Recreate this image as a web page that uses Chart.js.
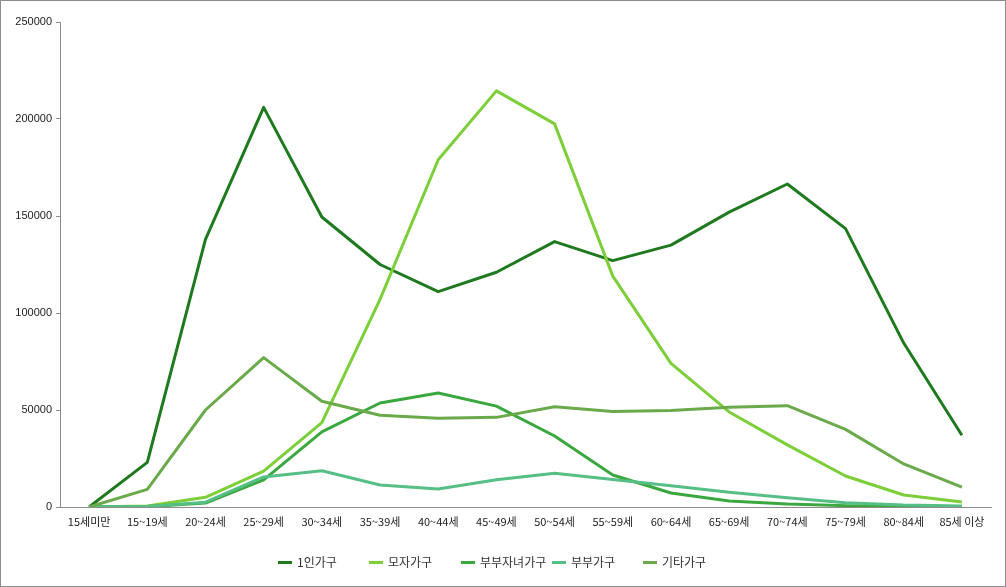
<!DOCTYPE html>
<html lang="ko">
<head>
<meta charset="utf-8">
<title>가구유형별 연령대 분포</title>
<script src="https://cdn.jsdelivr.net/npm/chart.js@4.4.1/dist/chart.umd.min.js"></script>
<style>
    html, body { margin: 0; padding: 0; background: #fff; }
    #frame {
        position: relative;
        width: 1006px;
        height: 587px;
        box-sizing: border-box;
        border: 1px solid #8c8c8c;
        font-family: "Noto Sans CJK KR", "DejaVu Sans", sans-serif;
    }
    #chartBox { position: absolute; left: 0; top: 0; width: 1004px; height: 585px; }
    #legend { position: absolute; left: 0; top: 551px; width: 1004px; height: 20px; }
    .item { position: absolute; top: 0; height: 20px; font-size: 12px; color: #333; line-height: 20px; white-space: nowrap; }
    .item i { display: inline-block; width: 14px; height: 3px; vertical-align: middle; margin-right: 5px; margin-top: -2px; }
</style>
</head>
<body>
<div id="frame">
    <div id="chartBox"><canvas id="lineChart"></canvas></div>
    <div id="legend"></div>
</div>
<script>
// Categories (age groups)
const ageGroups = ['15세미만', '15~19세', '20~24세', '25~29세', '30~34세', '35~39세', '40~44세', '45~49세',
    '50~54세', '55~59세', '60~64세', '65~69세', '70~74세', '75~79세', '80~84세', '85세 이상'];

// Series values
const singleHouse = [0, 23000, 138000, 206000, 149500, 125000, 111000, 121000, 136800, 127000, 135000, 152000, 166500, 143500, 84500, 37000];
const motherChild = [0, 500, 5000, 18500, 43500, 107000, 179000, 214500, 197500, 119000, 74000, 49000, 32000, 16000, 6200, 2600];
const coupleChildren = [0, 200, 2000, 14000, 38700, 53600, 58800, 52000, 36600, 16500, 7200, 3100, 1500, 700, 300, 200];
const coupleOnly = [0, 300, 2500, 15500, 18700, 11300, 9300, 14000, 17400, 14200, 10900, 7600, 4800, 2200, 1000, 500];
const otherHouse = [0, 9100, 50000, 77000, 54500, 47300, 45700, 46200, 51700, 49200, 49700, 51400, 52200, 40000, 22200, 10200];

const seriesNames = ['1인가구', '모자가구', '부부자녀가구', '부부가구', '기타가구'];
const seriesColors = ['#1f7a1f', '#7ccf38', '#3aa83f', '#56bf86', '#6aaa4a'];

// Y axis ticks
const yTicks = [0, 50000, 100000, 150000, 200000, 250000];

const seriesData = [singleHouse, motherChild, coupleChildren, coupleOnly, otherHouse];

// Build legend
const legendEl = document.getElementById('legend');
const legendStart = 278;
const legendStep = 91.3;
legendEl.innerHTML = seriesNames.map((name, i) => `
    <div class="item" style="left:${Math.round(legendStart - 1 + i * legendStep)}px">
        <i style="background:${seriesColors[i]}"></i>${name}
    </div>
`).join('');

// Render chart
const ctx = document.getElementById('lineChart').getContext('2d');
new Chart(ctx, {
    type: 'line',
    data: {
        labels: ageGroups,
        datasets: seriesNames.map((name, i) => ({
            label: name,
            data: seriesData[i],
            borderColor: seriesColors[i],
            backgroundColor: seriesColors[i],
            borderWidth: 3,
            pointRadius: 0,
            tension: 0,
            borderJoinStyle: 'round',
            order: seriesNames.length - i
        }))
    },
    options: {
        responsive: true,
        maintainAspectRatio: false,
        animation: false,
        layout: {
            padding: { left: 0, right: 14, top: 21, bottom: 0 }
        },
        plugins: {
            legend: { display: false },
            tooltip: { enabled: false }
        },
        scales: {
            x: {
                offset: true,
                grid: {
                    display: true,
                    drawOnChartArea: false,
                    drawTicks: false
                },
                border: { display: true, color: '#8c8c8c', width: 1 },
                ticks: {
                    color: '#222',
                    padding: 8,
                    autoSkip: false,
                    maxRotation: 0,
                    font: { family: '"Noto Sans CJK KR", "DejaVu Sans", sans-serif', size: 11 }
                },
                afterFit: function(scale) {
                    scale.height = 79;
                }
            },
            y: {
                min: 0,
                max: 250000,
                afterBuildTicks: function(scale) {
                    scale.ticks = yTicks.map(v => ({ value: v }));
                },
                grid: {
                    display: true,
                    drawOnChartArea: false,
                    tickLength: 4,
                    color: '#8c8c8c'
                },
                border: { display: true, color: '#8c8c8c', width: 1 },
                ticks: {
                    color: '#222',
                    padding: 4,
                    font: { family: '"Liberation Sans", Arial, sans-serif', size: 11 },
                    callback: function(value) {
                        return String(value);
                    }
                },
                afterFit: function(scale) {
                    scale.width = 59;
                }
            }
        }
    }
});
</script>
</body>
</html>
